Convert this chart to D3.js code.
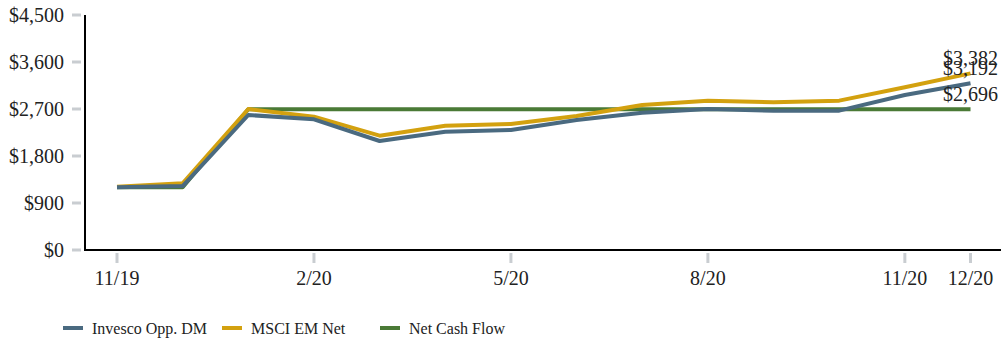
<!DOCTYPE html>
<html>
<head>
<meta charset="utf-8">
<script src="https://cdn.jsdelivr.net/npm/d3@7"></script>
<style>
  html, body { margin: 0; padding: 0; background: #fff; }
  svg { display: block; }
</style>
</head>
<body>
<svg id="chart" width="1001" height="344" font-family="'Liberation Serif', 'DejaVu Serif', serif"></svg>
<script>
// Monthly growth of an initial investment, 11/19 – 12/20
const months = ["11/19","12/19","1/20","2/20","3/20","4/20","5/20","6/20","7/20","8/20","9/20","10/20","11/20","12/20"];
const invesco = [1200, 1225, 2585, 2503, 2087, 2266, 2298, 2489, 2629, 2700, 2668, 2668, 2968, 3192];
const msci    = [1210, 1277, 2700, 2553, 2189, 2381, 2413, 2566, 2777, 2860, 2828, 2860, 3115, 3382];
const netCash = [1200, 1200, 2696, 2696, 2696, 2696, 2696, 2696, 2696, 2696, 2696, 2696, 2696, 2696];
const xTickLabels = ["11/19", "2/20", "5/20", "8/20", "11/20", "12/20"];
const yTicks = [0, 900, 1800, 2700, 3600, 4500];

const series = [
  { name: "Net Cash Flow",   values: netCash, color: "#4a7a36" },
  { name: "MSCI EM Net",     values: msci,    color: "#d3a10f" },
  { name: "Invesco Opp. DM", values: invesco, color: "#4a6a80" }
];
const legendOrder = ["Invesco Opp. DM", "MSCI EM Net", "Net Cash Flow"];

const svg = d3.select("#chart");
const margin = { left: 85, top: 15, right: 0, bottom: 94 };
const W = 1001, H = 344;
const fontFamily = "'Liberation Serif', 'DejaVu Serif', serif";

const x = d3.scalePoint().domain(months).range([117, 970.5]);
const y = d3.scaleLinear().domain([0, 4500]).range([H - margin.bottom, margin.top]);

const tickColor = "#c9cdd1";
const textColor = "#222";

// Y axis: gray tick marks and dollar labels
const fmt = d3.format("$,");
const yAxis = svg.append("g");
yAxis.selectAll("line.tick").data(yTicks).join("line")
  .attr("x1", 72).attr("x2", 81)
  .attr("y1", d => y(d)).attr("y2", d => y(d))
  .attr("stroke", tickColor).attr("stroke-width", 3);
yAxis.selectAll("text").data(yTicks).join("text")
  .attr("x", 64).attr("y", d => y(d)).attr("dy", "0.35em")
  .attr("text-anchor", "end").attr("font-size", 20).attr("font-family", fontFamily)
  .attr("fill", textColor)
  .text(d => fmt(d));

// X axis: gray tick marks and month labels
const xAxis = svg.append("g");
xAxis.selectAll("line").data(xTickLabels).join("line")
  .attr("x1", d => x(d)).attr("x2", d => x(d))
  .attr("y1", 253).attr("y2", 263)
  .attr("stroke", tickColor).attr("stroke-width", 3);
xAxis.selectAll("text").data(xTickLabels).join("text")
  .attr("x", d => x(d)).attr("y", 285)
  .attr("text-anchor", "middle").attr("font-size", 20).attr("font-family", fontFamily)
  .attr("fill", textColor)
  .text(d => d);

// Axis lines
svg.append("line").attr("x1", margin.left).attr("x2", margin.left)
  .attr("y1", y(4500)).attr("y2", y(0) + 1).attr("stroke", "#000").attr("stroke-width", 2);
svg.append("line").attr("x1", margin.left - 1).attr("x2", W)
  .attr("y1", y(0)).attr("y2", y(0)).attr("stroke", "#000").attr("stroke-width", 2);

// Series lines
const line = d3.line().x((d, i) => x(months[i])).y(d => y(d));
svg.append("g").selectAll("path").data(series).join("path")
  .attr("d", d => line(d.values))
  .attr("fill", "none").attr("stroke", d => d.color)
  .attr("stroke-width", 4).attr("stroke-linejoin", "round");

// End-value labels
const endFmt = d3.format("$,");
svg.append("g").selectAll("text").data(series).join("text")
  .attr("x", x(months[months.length - 1]))
  .attr("y", d => y(d.values[d.values.length - 1]) - 8)
  .attr("text-anchor", "middle").attr("font-size", 20).attr("font-family", fontFamily)
  .attr("fill", textColor)
  .text(d => endFmt(d.values[d.values.length - 1]));

// Legend
const legendX = [63, 222, 380];
const lg = svg.append("g");
legendOrder.forEach((name, i) => {
  const s = series.find(d => d.name === name);
  const g = lg.append("g").attr("transform", `translate(${legendX[i]},328)`);
  g.append("line").attr("x1", 0).attr("x2", 20).attr("y1", 0).attr("y2", 0)
    .attr("stroke", s.color).attr("stroke-width", 4);
  g.append("text").attr("x", 29).attr("y", 0).attr("dy", "0.35em")
    .attr("font-size", 16).attr("font-family", fontFamily)
    .attr("fill", textColor).text(name);
});
</script>
</body>
</html>
